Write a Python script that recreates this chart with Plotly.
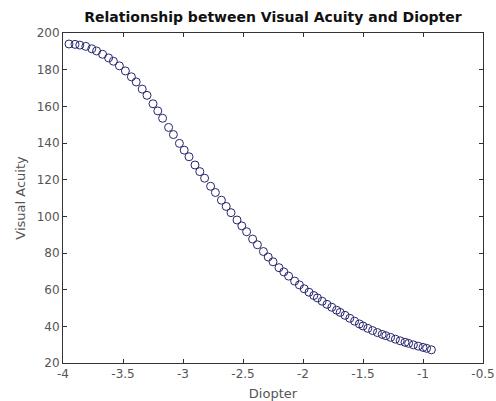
import plotly.graph_objects as go

diopter = [
    -3.95, -3.90, -3.86, -3.81, -3.76, -3.72, -3.67, -3.62, -3.58, -3.53, -3.48, -3.43, -3.39, -3.34,
    -3.30, -3.25, -3.21, -3.17, -3.12, -3.08, -3.03, -2.99, -2.95, -2.90, -2.86, -2.82, -2.77, -2.73,
    -2.68, -2.64, -2.60, -2.55, -2.51, -2.47, -2.42, -2.38, -2.33, -2.29, -2.25, -2.20, -2.16, -2.12,
    -2.07, -2.03, -1.99, -1.95, -1.91, -1.88, -1.84, -1.80, -1.76, -1.72, -1.69, -1.65, -1.61, -1.57,
    -1.53, -1.50, -1.46, -1.42, -1.38, -1.34, -1.31, -1.27, -1.23, -1.19, -1.15, -1.12, -1.08, -1.04,
    -1.00, -0.97, -0.93,
]
visual_acuity = [
    194.0, 193.8, 193.4, 192.7, 191.4, 190.2, 188.4, 186.4, 184.6, 182.1, 179.3, 176.1, 173.3, 169.4,
    166.0, 161.4, 157.5, 153.5, 148.5, 144.6, 139.8, 136.1, 132.5, 128.0, 124.4, 120.8, 116.4, 113.0,
    108.8, 105.4, 102.0, 98.0, 94.8, 91.6, 87.6, 84.5, 80.8, 77.8, 75.2, 72.0, 69.7, 67.4,
    64.7, 62.6, 60.5, 58.6, 56.8, 55.5, 53.7, 52.0, 50.4, 48.8, 47.6, 46.0, 44.4, 42.8,
    41.3, 40.2, 38.9, 37.7, 36.6, 35.6, 34.9, 34.0, 33.0, 32.1, 31.3, 30.7, 29.9, 29.2,
    28.5, 28.0, 27.2,
]
x_ticks = [-4, -3.5, -3, -2.5, -2, -1.5, -1, -0.5]
x_tick_labels = ["-4", "-3.5", "-3", "-2.5", "-2", "-1.5", "-1", "-0.5"]
y_ticks = [20, 40, 60, 80, 100, 120, 140, 160, 180, 200]

fig = go.Figure()
fig.add_trace(go.Scatter(
    x=diopter, y=visual_acuity, mode="markers",
    marker=dict(symbol="circle-open", size=8, color="#26266e", line=dict(width=1, color="#26266e")),
    showlegend=False, cliponaxis=False, hoverinfo="skip",
))

axis_common = dict(
    showline=True, linecolor="#333333", linewidth=1, mirror="ticks",
    ticks="inside", ticklen=4, tickcolor="#333333", showgrid=False, zeroline=False,
    tickfont=dict(family="DejaVu Sans", size=12, color="#555555"), automargin=False,
)
fig.update_xaxes(
    range=[-4, -0.5], tickvals=x_ticks, ticktext=x_tick_labels,
    title=dict(text="Diopter", font=dict(family="DejaVu Sans", size=13, color="#555555"), standoff=11),
    **axis_common,
)
fig.update_yaxes(
    range=[20, 200], tickvals=y_ticks,
    title=dict(text="Visual Acuity", font=dict(family="DejaVu Sans", size=13, color="#555555"), standoff=8),
    **axis_common,
)
fig.update_layout(
    width=496, height=401,
    margin=dict(l=63, r=13, t=33, b=38, autoexpand=False),
    paper_bgcolor="white", plot_bgcolor="white",
    title=dict(text="<b>Relationship between Visual Acuity and Diopter</b>",
               font=dict(family="DejaVu Sans", size=14, color="#111111"),
               xref="paper", x=0.5, xanchor="center", y=0.958, yanchor="middle",
               automargin=False),
)
fig.write_html(
    "out.html",
    config={"displayModeBar": False},
    post_script="document.body.style.margin='0px';document.body.style.overflow='hidden';",
)
